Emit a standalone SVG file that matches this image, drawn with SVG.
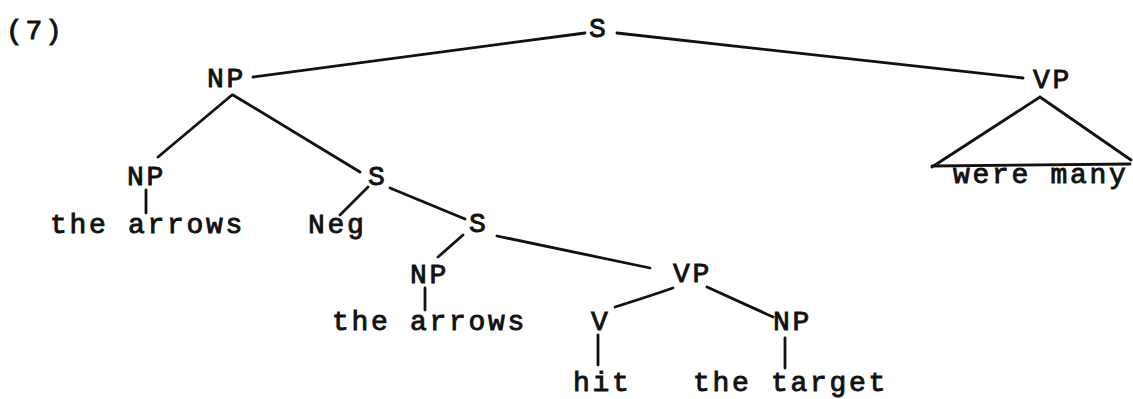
<svg xmlns="http://www.w3.org/2000/svg" width="1133" height="399" viewBox="0 0 1133 399">
  <style>
    text { font-family: "Liberation Mono", "Courier New", monospace; font-size: 28px; letter-spacing: 2.7px; fill: #111; stroke: #111; stroke-width: 0.9px; }
    .edge { stroke: #111; stroke-width: 2.8; stroke-linecap: round; fill: none; }
  </style>
  <rect width="1133" height="399" fill="#fff"/>

  <text id="example-number" x="6" y="39">(7)</text>

  <!-- connectors -->
  <g id="connectors">
    <line class="edge" x1="585" y1="33" x2="253" y2="77"/>
    <line class="edge" x1="617" y1="33" x2="1023" y2="78"/>
    <line class="edge" x1="232" y1="95" x2="158" y2="157"/>
    <line class="edge" x1="233" y1="95" x2="360" y2="172"/>
    <line class="edge" x1="146" y1="190" x2="146" y2="213"/>
    <line class="edge" x1="368" y1="187" x2="340" y2="215"/>
    <line class="edge" x1="390" y1="188" x2="465" y2="219"/>
    <line class="edge" x1="463" y1="235" x2="438" y2="257"/>
    <line class="edge" x1="497" y1="236" x2="650" y2="268"/>
    <line class="edge" x1="425" y1="288" x2="425" y2="310"/>
    <path class="edge" d="M673,288 Q650,296 615,307"/>
    <line class="edge" x1="707" y1="287" x2="773" y2="317"/>
    <line class="edge" x1="598" y1="335" x2="598" y2="365"/>
    <line class="edge" x1="785" y1="338" x2="785" y2="368"/>
    <!-- triangle over the unanalysed VP -->
    <path class="edge" d="M932,167 L1040,97 L1131,160 M932,166 L1130,164"/>
  </g>

  <g id="s-top"><text x="589" y="37">S</text></g>
  <g id="np-subject"><text x="207" y="87">NP</text></g>
  <g id="vp-main"><text x="1033" y="88">VP</text></g>
  <g id="vp-main-yield"><text x="953" y="183">were many</text></g>
  <g id="np-head"><text x="127" y="185">NP</text></g>
  <g id="np-head-yield"><text x="50" y="233">the arrows</text></g>
  <g id="s-rel"><text x="368" y="185">S</text></g>
  <g id="neg"><text x="308" y="233">Neg</text></g>
  <g id="s-inner"><text x="469" y="232">S</text></g>
  <g id="np-inner"><text x="410" y="283">NP</text></g>
  <g id="np-inner-yield"><text x="332" y="330">the arrows</text></g>
  <g id="vp-inner"><text x="673" y="282">VP</text></g>
  <g id="v"><text x="591" y="330">V</text></g>
  <g id="v-yield"><text x="573" y="391">hit</text></g>
  <g id="np-object"><text x="773" y="330">NP</text></g>
  <g id="np-object-yield"><text x="693" y="391">the target</text></g>
</svg>
